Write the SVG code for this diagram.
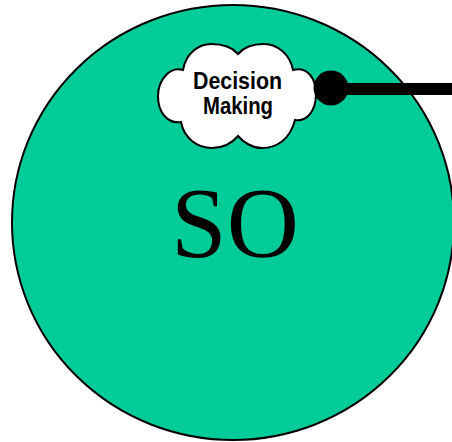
<svg xmlns="http://www.w3.org/2000/svg" width="452" height="442" viewBox="0 0 452 442">
  <style>
    .outline { stroke: #000; stroke-width: 2; }
    .label { font-family: "Liberation Sans", Arial, sans-serif; font-weight: bold; font-size: 23px; fill: #000; text-anchor: middle; }
    .title { font-family: "Liberation Serif", "Times New Roman", serif; font-size: 100px; fill: #000; text-anchor: middle; }
  </style>
  <rect width="452" height="442" fill="#fff"/>

  <!-- Organisation boundary -->
  <g id="so">
    <ellipse cx="233" cy="222.5" rx="221" ry="217.5" fill="#00CC99" class="outline"/>
    <text x="235" y="256" class="title">SO</text>
  </g>

  <!-- Decision-making cloud -->
  <g id="decision-making">
    <path d="M 183 70
             C 186 52, 200 44, 211 44
             C 224 44, 233 48, 238 54
             C 243 48, 252 44, 264 44
             C 277 44, 290 54, 293 70
             C 307 66, 316 78, 316 94
             C 316 112, 306 122, 295 120
             C 290 140, 276 148, 262 148
             C 252 148, 243 142, 238 136
             C 233 142, 224 148, 212 148
             C 197 148, 184 138, 181 122
             C 167 124, 158 112, 158 96
             C 158 80, 170 66, 183 70 Z"
          fill="#fff" class="outline"/>
    <text x="237.5" y="89" class="label" textLength="89" lengthAdjust="spacingAndGlyphs">Decision</text>
    <text x="238" y="114" class="label" textLength="70" lengthAdjust="spacingAndGlyphs">Making</text>
  </g>

  <!-- Connector leaving the cloud -->
  <g id="connectors">
    <line x1="331" y1="89" x2="452" y2="89" stroke="#000" stroke-width="12"/>
    <circle cx="331" cy="88" r="17.5" fill="#000"/>
  </g>
</svg>
